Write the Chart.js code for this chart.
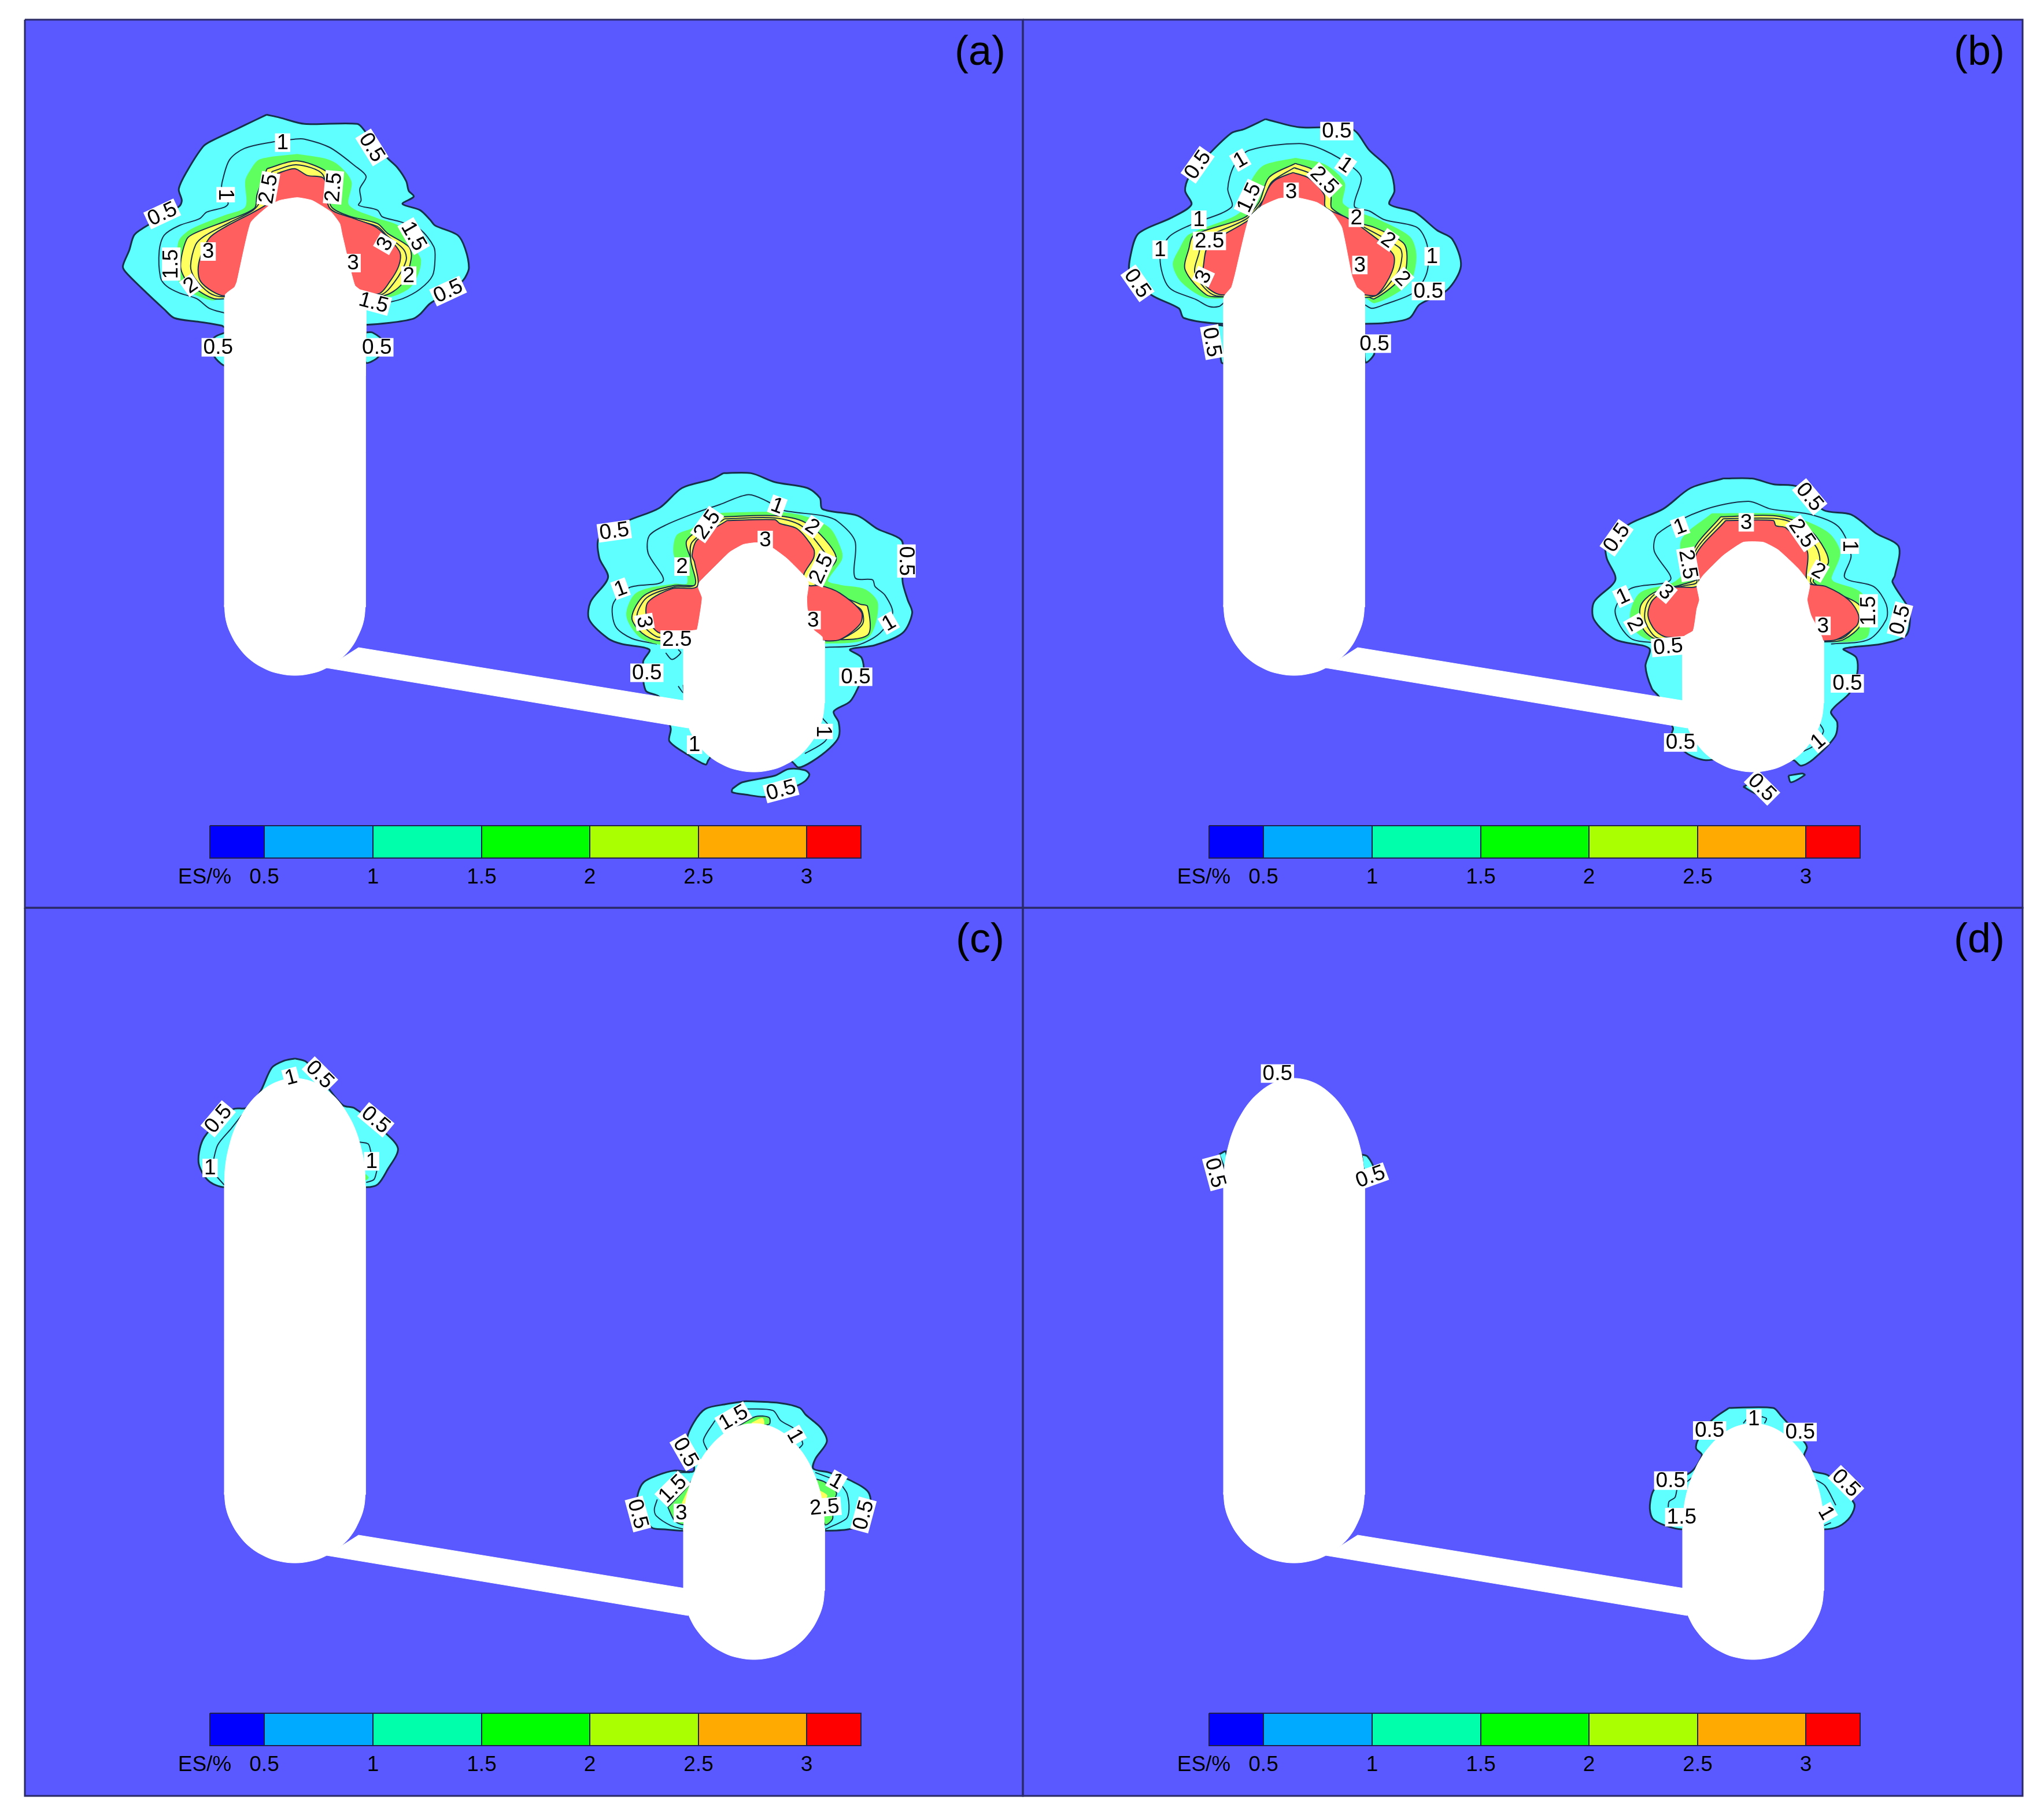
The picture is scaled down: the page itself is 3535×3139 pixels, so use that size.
<!DOCTYPE html>
<html><head><meta charset="utf-8">
<style>html,body{margin:0;padding:0;background:#fff}#w{position:relative;width:3535px;height:3139px}canvas{display:block}</style>
<script src="https://cdn.jsdelivr.net/npm/chart.js@4"></script></head>
<body><div id="w"><canvas id="c" width="3535" height="3139"></canvas></div>
<script>
// ---------- level key ----------
const levelTickLabels=['0.5','1','1.5','2','2.5','3'];
const keyTitle='ES/%';
const keyColors=['#0000ff','#00aaff','#00ffaa','#00ff00','#aaff00','#ffaa00','#ff0000'];
const keyEdges=[363,457,645,833,1020,1208,1395,1489];
const panelNames=['(a)','(b)','(c)','(d)'];
// ---------- shared vessel outlines (panel-local picture units) ----------
const shaftLeft=[388,515,632,515,632,1050,388,1050];
const bottomLeft=[388,1046,391,1073,400,1098,414,1121,433,1141,457,1156,479,1164,510,1168,541,1164,563,1156,587,1141,606,1122,620,1098,629,1073,632,1046];
const pipe=[620,1120,1190,1213,1190,1259,565,1155];
const shaftRight=[1182,1108,1426,1108,1426,1216,1182,1216];
const bottomRight=[1182,1213,1185,1240,1194,1265,1208,1288,1227,1308,1251,1323,1273,1331,1304,1335,1335,1331,1357,1323,1381,1308,1400,1288,1414,1265,1423,1240,1426,1213];
const smoothDomeLeft=[388,517,390,480,397,445,407,415,420,390,434,370,449,355,465,343,482,335,498,331,510,330,522,331,538,335,555,343,571,355,586,370,600,390,613,415,623,445,630,480,632,517];
const smoothDomeRight=[1182,1112,1184,1075,1191,1040,1202,1010,1215,985,1230,965,1245,950,1262,938,1282,930,1304,927,1326,930,1346,938,1363,950,1378,965,1393,985,1406,1010,1417,1040,1424,1075,1426,1112];
// ---------- panel (a), left hot zone ----------
const aL05=[648,85,700,100,800,133,1010,133,1040,170,1130,310,1170,360,1205,430,1215,480,1235,510,1190,548,1260,580,1300,630,1320,660,1410,710,1440,780,1455,880,1440,930,1420,960,1370,1010,1300,1065,1260,1120,1230,1145,1140,1165,1043,1175,483,1190,470,1180,380,1160,280,1140,240,1095,150,985,85,900,75,870,100,790,120,710,160,670,300,560,310,530,298,470,330,380,395,250,430,220,520,165,560,140];
const aLLobe1=[483,1215,440,1240,425,1290,445,1350,483,1385];
const aLLobe2=[1043,1215,1070,1215,1110,1260,1095,1340,1043,1370];
const aL1=[483,1115,420,1090,370,1040,300,1010,250,975,225,930,220,790,240,710,300,660,380,625,410,590,480,565,495,545,470,470,470,440,500,320,560,260,680,225,760,212,800,212,900,255,1000,350,1045,405,1020,470,1025,530,1015,555,1090,580,1110,615,1180,640,1260,680,1315,770,1320,830,1310,920,1260,990,1190,1040,1130,1060];
const aL15=[770,292,880,315,935,350,985,435,975,555,1090,625,1175,665,1240,790,1262,840,1245,930,1210,990,1130,1030,1040,1010,480,1010,440,1045,400,1035,340,1000,300,950,295,850,300,740,350,680,480,610,565,565,565,430,580,385,620,320];
const aL2=[650,365,768,325,885,378,890,430,905,560,975,610,1090,650,1130,700,1215,770,1225,830,1190,960,1110,1025,480,1040,440,1040,390,1010,330,950,305,870,330,730,370,695,500,630,600,570,610,500];
const aL25=[670,380,766,345,872,395,890,560,990,625,1090,665,1130,715,1195,785,1205,840,1160,950,1100,1020,470,1030,420,1010,360,930,345,870,365,760,400,715,500,645,595,580,625,530];
const aL3=[690,390,760,365,810,400,870,410,885,440,900,570,1000,625,1080,665,1130,720,1180,800,1175,870,1140,950,1095,1015,1000,1000,480,1025,430,1000,385,950,375,890,385,820,420,725,480,670,590,595,650,550,680,520];
const aLWhite=[483,1440,483,1020,520,980,530,950,585,645,655,560,700,530,770,515,830,530,905,590,940,650,950,710,1000,970,1043,1020,1043,1440];
// ---------- panel (a), right hot zone ----------
const aR05=[625,48,735,48,830,88,960,115,1010,160,1020,210,1160,240,1240,300,1335,350,1340,430,1340,540,1360,620,1378,680,1340,770,1230,825,1130,845,1175,880,1185,950,1165,1010,1130,1080,1065,1125,1085,1175,1085,1240,1050,1290,980,1350,925,1378,895,1350,600,1300,565,1345,555,1365,490,1325,410,1260,415,1200,370,1060,315,1030,305,900,330,845,220,820,165,795,90,710,95,630,165,520,130,430,130,340,240,265,370,205,460,115,580,75];
const aRIsland=[660,1475,700,1445,830,1415,885,1385,950,1390,968,1410,950,1440,900,1470,800,1510,710,1500,660,1490];
const aR1=[360,820,260,795,195,740,185,640,250,565,385,535,325,410,330,330,400,280,520,225,610,190,725,145,800,175,860,215,1020,240,1080,265,1150,355,1150,520,1220,530,1230,560,1270,600,1300,680,1250,770,1160,825,1030,835];
const aR1b=[395,860,420,890,455,860,445,845];
const aR1c=[445,1010,465,1040,465,1005];
const aR1d=[1020,1155,1050,1200,1030,1260,950,1315];
const aR15=[615,230,830,225,950,245,1050,300,1095,400,1095,440,1040,535,1090,555,1190,575,1240,640,1200,790,1030,815,470,815,370,820,290,785,240,690,280,590,430,550,480,550,480,500,430,420,440,330,500,300];
const aR2=[620,245,830,240,950,270,1040,360,1075,440,1010,545,1170,640,1200,650,1200,780,1030,800,370,805,300,770,260,700,310,600,430,555,520,550,500,450,480,350];
const aR25=[630,254,830,250,935,285,1015,385,1045,450,990,548,1170,660,1180,730,1100,795,1030,803,370,790,315,750,280,695,320,610,430,562,512,552,495,440,500,360];
const aR3=[640,262,830,258,850,275,920,300,985,390,985,430,945,510,965,555,1010,555,1090,590,1175,675,1170,730,1090,800,1025,805,470,770,370,770,320,700,325,630,420,570,520,560,510,450,500,420,520,350];
const aRWhite=[468,1080,468,840,500,760,520,755,535,660,540,610,525,565,530,540,600,460,650,405,705,370,760,362,820,385,880,435,950,515,965,545,958,610,960,660,985,755,1020,790,1025,1080];
// ---------- panel (b), left hot zone ----------
const bL05=[665,78,800,120,1010,130,1080,240,1160,340,1180,450,1160,520,1260,560,1350,655,1410,700,1445,840,1390,965,1280,1040,1240,1110,1150,1135,1060,1140,500,1140,340,1110,320,1060,210,990,125,880,130,770,160,670,290,590,370,522,345,450,360,380,440,260,530,150,580,130];
const bLLobe1=[500,1150,470,1150,490,1340,500,1345];
const bLLobe2=[1060,1200,1100,1290,1065,1340];
const bL1=[500,1030,480,1050,440,1050,390,1015,280,950,245,800,280,690,370,625,530,535,515,440,540,320,600,240,800,205,900,240,1015,330,1048,385,1020,530,1080,555,1140,600,1270,640,1310,730,1310,870,1260,975,1140,1040,1090,1060,1060,1040];
const bL15=[785,282,900,315,980,410,975,520,1130,610,1240,690,1265,780,1250,900,1210,960,1100,1030,1060,1000,500,1005,420,1000,330,920,298,830,325,750,360,680,570,560,610,400,660,320];
const bL2=[785,308,860,345,905,450,915,540,1020,610,1100,640,1215,720,1230,790,1215,890,1100,1010,1060,990,500,1000,430,990,345,860,360,750,380,680,580,590,640,510,680,380];
const bL25=[780,330,850,365,925,470,930,540,1040,625,1200,745,1210,790,1190,880,1090,1000,470,995,385,880,400,775,420,700,590,595,655,500,690,405];
const bL3=[775,355,840,385,900,470,905,535,990,590,1060,650,1175,780,1170,870,1110,990,1060,990,490,990,420,930,420,820,440,730,600,600,640,540,680,430,710,390];
const bLWhite=[500,1440,500,1000,530,950,545,880,600,590,650,530,720,490,790,485,870,510,930,560,970,640,1010,890,1030,950,1060,985,1060,1440];
// ---------- panel (b), right hot zone ----------
const bR05=[600,72,715,72,800,98,900,110,1000,215,1110,235,1210,320,1300,380,1285,510,1275,540,1330,640,1345,680,1330,780,1230,820,1080,842,1130,880,1135,950,1105,1040,1030,1125,1055,1175,1045,1240,960,1340,910,1370,880,1345,620,1330,530,1345,450,1310,395,1230,400,1200,345,1060,315,1020,290,920,305,840,170,800,85,710,85,630,170,530,135,430,135,360,230,275,360,210,470,115];
const bRIsland1=[860,1415,915,1405,925,1412,870,1445];
const bRIsland2=[680,1465,715,1450,760,1480,740,1500];
const bR1=[340,815,240,800,190,740,170,660,230,570,390,530,325,400,340,320,520,215,700,175,790,210,950,235,1060,290,1110,420,1085,520,1200,560,1250,640,1250,710,1180,800,1030,820];
const bR1b=[985,1180,1000,1215,960,1280,920,1305];
const bR15=[555,232,800,232,890,250,1020,320,1065,410,1030,520,1040,540,1150,590,1180,700,1170,790,1030,810,340,810,260,770,230,690,270,590,400,545,440,500,435,350];
const bR2=[590,245,800,240,900,270,975,340,1020,450,960,540,1140,640,1150,730,1080,800,1000,810,340,800,280,750,270,650,320,590,440,550,500,520,480,400];
const bR25=[600,254,800,252,880,275,970,380,985,450,950,542,1120,650,1130,730,1060,798,345,795,290,720,295,640,340,585,450,555,495,540,485,410];
const bR3=[610,262,800,262,810,285,850,295,935,400,935,540,1010,560,1100,620,1140,690,1130,740,1030,805,380,790,330,760,300,690,320,620,400,565,500,555,490,420];
const bRWhite=[438,1080,440,790,480,760,495,660,505,620,495,555,520,510,600,420,680,360,760,360,820,395,900,480,945,550,935,620,950,690,997,800,998,1080];
// ---------- panel (c) ----------
const cL05=[630,122,690,140,810,285,880,365,940,380,1090,500,1165,590,1110,700,1060,775,1000,790,265,790,180,755,130,660,160,530,310,385,380,378,450,295,510,170,570,135];
const cL1a=[355,415,300,485,230,570,205,660];
const cL1b=[225,735,265,780];
const cL1c=[960,555,1010,565,1025,610];
const cL1d=[1055,705,1040,750,1000,765];
const cLGreen=[990,720,1010,740,995,750];
const cR05=[690,70,870,80,970,105,1000,140,1080,210,1110,280,1050,370,1040,420,1120,440,1230,480,1330,550,1320,700,1220,735,1100,742,365,742,270,735,200,725,130,610,130,550,160,490,230,455,320,430,420,430,385,270,420,180,480,110,590,85];
const cR1a=[690,110,830,118,870,170,950,220,985,290,965,315];
const cR1b=[530,170,470,270,490,325];
const cR1c=[1050,440,1130,470];
const cR1d=[1190,510,1215,550,1225,630,1210,680,1100,735];
const cR1e=[400,440,330,440];
const cR1f=[230,580,215,630,225,665,300,715,370,735];
const cRGreenTop=[640,205,740,150,810,155,810,190,700,195];
const cRYellowTop=[720,185,775,160,780,190];
const cRGreenLeft=[285,620,390,510,420,470,420,700,360,710,320,690];
const cRYellowLeft=[360,600,410,495,420,500,420,620];
const cRGreenRight=[1040,470,1100,490,1160,545,1135,610,1140,680,1100,710];
const cRYellowRight=[1060,530,1110,560,1090,590,1090,695,1060,690];
// ---------- panel (d) ----------
const dLPatch1=[205,590,240,575,240,670];
const dLPatch2=[945,590,975,600,1005,660,960,675];
const dR05=[630,105,860,105,900,145,1020,280,1035,310,1020,355,1060,430,1145,455,1280,600,1260,670,1200,720,1120,735,390,735,300,715,235,680,220,610,250,520,430,440,490,350,460,315,470,270,540,170];
const dR1a=[705,185,720,165];
const dR1b=[800,150,825,160,815,185];
const dR1c=[1075,475,1130,510,1185,610];
const dR1d=[360,530,350,570,320,590,315,620];
const dR1e=[1125,715,1160,700];
const dR1f=[410,490,440,465];
// ---------- contour labels: text, x, y, angle ----------
const aLLabels=[['1',712,230,0],['0.5',1068,255,58],['1',485,500,90],['0.5',232,600,-25],['2.5',655,470,-80],['2.5',915,462,-85],['1.5',1235,715,60],['3',1120,755,-60],['3',993,855,0],['3',415,795,0],['1.5',268,860,-90],['2',345,970,-35],['2',1215,920,0],['1.5',1075,1060,15],['0.5',1372,1000,-25],['0.5',455,1292,0],['0.5',1088,1292,0]];
const aRLabels=[['0.5',190,310,-8],['1',840,195,20],['2.5',560,280,-55],['2',980,290,35],['3',792,350,0],['2.5',1015,480,-65],['0.5',1355,445,90],['2',460,470,0],['1',215,570,-20],['3',310,720,80],['3',983,712,0],['1',1285,725,-30],['2.5',440,800,0],['0.5',320,950,0],['0.5',1153,968,0],['1',1025,1215,90],['1',510,1275,0],['0.5',855,1480,-15]];
const bLLabels=[['0.5',950,140,0],['0.5',395,315,-55],['1',565,290,-30],['1',985,315,35],['1.5',600,485,-65],['2.5',900,395,45],['3',768,455,0],['1',400,600,0],['2',1028,590,0],['2.5',442,710,0],['2',1155,705,35],['1',245,755,0],['1',1330,790,0],['3',1042,835,0],['3',418,895,-65],['2',1212,905,45],['0.5',1315,970,0],['0.5',155,930,55],['0.5',452,1235,80],['0.5',1100,1243,0]];
const bRLabels=[['0.5',945,155,50],['0.5',175,340,-55],['1',428,290,-20],['1',1105,378,90],['3',692,270,0],['2.5',915,320,55],['2.5',460,460,80],['2',980,490,30],['3',372,585,40],['1',200,605,-25],['2',248,730,60],['1.5',1180,670,-90],['0.5',1305,710,-75],['3',998,738,0],['0.5',380,832,-5],['0.5',1095,998,0],['0.5',430,1265,0],['1',978,1260,-40],['0.5',755,1468,45]];
const cLLabels=[['0.5',232,435,-50],['1',610,220,-15],['0.5',760,205,45],['0.5',1050,440,40],['1',190,690,0],['1',1028,655,0]];
const cRLabels=[['1.5',625,155,-30],['1',945,250,60],['0.5',378,335,60],['1.5',310,525,-45],['1',1160,485,30],['3',355,650,0],['2.5',1098,620,-5],['0.5',130,655,75],['0.5',1300,660,-75]];
const dLLabels=[['0.5',508,170,0],['0.5',185,685,75],['0.5',990,705,-20]];
const dRLabels=[['1',760,160,0],['0.5',530,222,0],['0.5',1000,230,0],['0.5',328,482,0],['0.5',1238,495,45],['1.5',385,672,0],['1',1135,650,60]];

// ---------- placement of crops and panels ----------
const PANEL_DX=1728, PANEL_DY=1535;
const crops={aL:[180,170,2.306,3],aR:[980,800,2.306,2.613],bL:[1900,180,2.306,3],bR:[2720,800,2.306,2.613],cL:[300,1790,3,3],cR:[1060,2400,3,3],dL:[2040,1800,3,3],dR:[2780,2400,3,3]};
const frames=[[43,34,1769,1570],[1769,34,3498,1570],[43,1570,1769,3106],[1769,1570,3498,3106]];
const BG='#5959ff',CY='#5fffff',GR='#5fff5f',YE='#ffff5f',RE='#ff5f5f',WH='#ffffff',LINE='#16304a';
const SMOOTH=0.3, ROUND=0.4;

const ds=[];
const pts=(f,m)=>{const o=[];for(let i=0;i<f.length;i+=2)o.push(m(f[i],f[i+1]));return o;};
const fromCrop=c=>(x,y)=>({x:c[0]+x/c[2],y:c[1]+y/c[3]});
const fromLocal=(dx,dy)=>(x,y)=>({x:x+dx,y:y+dy});
function poly(p,fillC,lineC,lw,t,open){const q=open?p:p.concat([p[0]]);ds.push({data:q,showLine:true,pointRadius:0,fill:'shape',backgroundColor:fillC,borderColor:lineC||fillC,borderWidth:lw===undefined?2:lw,tension:t||0,clip:false});}
function line(p,lineC,lw){ds.push({data:p,showLine:true,pointRadius:0,fill:false,borderColor:lineC||LINE,borderWidth:lw||2,tension:SMOOTH,clip:false});}
function rect(x0,y0,x1,y1,f,l,w){poly([{x:x0,y:y0},{x:x1,y:y0},{x:x1,y:y1},{x:x0,y:y1}],f,l,w,0);}
frames.forEach(r=>rect(r[0],r[1],r[2],r[3],BG,BG,0));

function zone(c,o,lines,bands,white){
  const m=fromCrop(c);
  o.forEach(a=>poly(pts(a,m),CY,LINE,3,SMOOTH));
  lines.forEach(a=>line(pts(a,m)));
  bands.forEach(b=>poly(pts(b[0],m),b[1],b[2]||LINE,2,SMOOTH));
  if(white)poly(pts(white,m),WH,WH,1,0.15,true);
}
function bodies(dx,dy){const m=fromLocal(dx,dy);
  [shaftLeft,pipe,shaftRight].forEach(a=>poly(pts(a,m),WH,WH,1,0));
  [bottomLeft,bottomRight].forEach(a=>poly(pts(a,m),WH,WH,1,ROUND,true));}

zone(crops.aL,[aL05,aLLobe1,aLLobe2],[aL1],[[aL15,GR,GR],[aL2,YE],[aL25,YE],[aL3,RE]],null);
zone(crops.aR,[aR05,aRIsland],[aR1,aR1b,aR1c,aR1d],[[aR15,GR,GR],[aR2,YE],[aR25,YE],[aR3,RE]],null);
bodies(0,0);
zone(crops.aL,[],[],[],aLWhite);zone(crops.aR,[],[],[],aRWhite);

zone(crops.bL,[bL05,bLLobe1,bLLobe2],[bL1],[[bL15,GR,GR],[bL2,YE],[bL25,YE],[bL3,RE]],null);
zone(crops.bR,[bR05,bRIsland1,bRIsland2],[bR1,bR1b],[[bR15,GR,GR],[bR2,YE],[bR25,YE],[bR3,RE]],null);
bodies(PANEL_DX,0);
zone(crops.bL,[],[],[],bLWhite);zone(crops.bR,[],[],[],bRWhite);

zone(crops.cL,[cL05],[cL1a,cL1b,cL1c,cL1d],[[cLGreen,GR,GR]],null);
zone(crops.cR,[cR05],[cR1a,cR1b,cR1c,cR1d,cR1e,cR1f],[[cRGreenTop,GR],[cRYellowTop,YE,YE],[cRGreenLeft,GR],[cRYellowLeft,YE,YE],[cRGreenRight,GR],[cRYellowRight,YE,YE]],null);
bodies(0,PANEL_DY);
[smoothDomeLeft,smoothDomeRight].forEach(a=>poly(pts(a,fromLocal(0,PANEL_DY)),WH,WH,1,ROUND,true));

zone(crops.dL,[dLPatch1,dLPatch2],[],[],null);
zone(crops.dR,[dR05],[dR1a,dR1b,dR1c,dR1d,dR1e,dR1f],[],null);
bodies(PANEL_DX,PANEL_DY);
[smoothDomeLeft,smoothDomeRight].forEach(a=>poly(pts(a,fromLocal(PANEL_DX,PANEL_DY)),WH,WH,1,ROUND,true));

const keyOffsets=[[0,0],[PANEL_DX,0],[0,PANEL_DY],[PANEL_DX,PANEL_DY]];
keyOffsets.forEach(o=>{keyColors.forEach((col,i)=>rect(keyEdges[i]+o[0],1428+o[1],keyEdges[i+1]+o[0],1484+o[1],col,'#20204a',2));});
frames.forEach(r=>rect(r[0],r[1],r[2],r[3],'rgba(0,0,0,0)','#2a2a66',3));

const labelSets=[[aLLabels,crops.aL],[aRLabels,crops.aR],[bLLabels,crops.bL],[bRLabels,crops.bR],[cLLabels,crops.cL],[cRLabels,crops.cR],[dLLabels,crops.dL],[dRLabels,crops.dR]];
const textPlugin={id:'panelText',afterDatasetsDraw(chart){
  const c=chart.ctx,X=chart.scales.x,Y=chart.scales.y;
  c.save();c.textAlign='center';c.textBaseline='middle';
  labelSets.forEach(([set,cr])=>{const m=fromCrop(cr);set.forEach(l=>{
    c.font='37px "Liberation Sans"';
    const p=m(l[1],l[2]);const w=c.measureText(l[0]).width+6;
    c.save();c.translate(X.getPixelForValue(p.x),Y.getPixelForValue(p.y));c.rotate(l[3]*Math.PI/180);
    c.fillStyle='#fff';c.fillRect(-w/2,-16,w,32);c.fillStyle='#000';c.fillText(l[0],0,1);c.restore();});});
  keyOffsets.forEach((o,n)=>{
    c.fillStyle='#000';c.font='37px "Liberation Sans"';
    levelTickLabels.forEach((t,i)=>c.fillText(t,X.getPixelForValue(keyEdges[i+1]+o[0]),Y.getPixelForValue(1518+o[1])));
    c.fillText(keyTitle,X.getPixelForValue(354+o[0]),Y.getPixelForValue(1518+o[1]));
    c.font='72px "Liberation Sans"';
    c.fillText(panelNames[n],X.getPixelForValue(1695+o[0]),Y.getPixelForValue(92+o[1]));
  });
  c.restore();
}};
new Chart(document.getElementById('c'),{type:'scatter',data:{datasets:ds.map((d,i)=>({...d,order:ds.length-i}))},
 options:{responsive:false,animation:false,devicePixelRatio:1,layout:{padding:0},
  plugins:{legend:{display:false},tooltip:{enabled:false},title:{display:false}},
  events:[],
  scales:{x:{type:'linear',display:false,min:0,max:3535},y:{type:'linear',display:false,min:0,max:3139,reverse:true}}},
 plugins:[textPlugin]});
</script></body></html>
